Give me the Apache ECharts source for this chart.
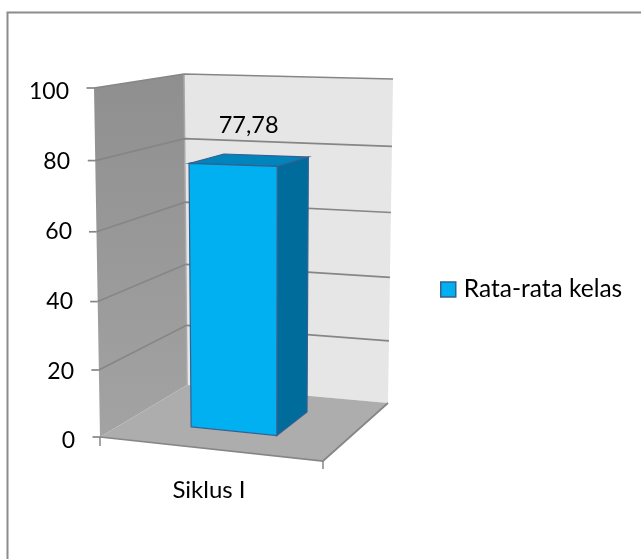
<!DOCTYPE html>
<html>
<head>
<meta charset="utf-8">
<style>html,body{margin:0;padding:0;background:#fff}#chart{width:641px;height:559px}</style>
<script src="https://cdn.jsdelivr.net/npm/echarts@6/dist/echarts.min.js"></script>
</head>
<body>
<div id="chart"></div>
<script>
// Chart content
const categories = ['Siklus I'];
const seriesName = 'Rata-rata kelas';
const classAverage = [77.78];
const valueTicks = [0, 20, 40, 60, 80, 100];

// Colours
const faceColor = '#00B0F0', topColor = '#0084BC', sideColor = '#006C9C', edgeColor = '#35608F';
const lineColor = '#868686';

// Screen corners of the 3D plot box: F/B = front/back, L/R = left/right, B/T = bottom/top
const box = {
  FLB: [100, 437], FRB: [323, 461], BLB: [187, 385], BRB: [388, 403],
  FLT: [94, 88], FRT: [325, 90], BLT: [184, 74], BRT: [393, 79]
};
const foreshorten = 0.05; // lower values are squeezed slightly by the camera tilt
const mix = (a, b, k) => [a[0] + (b[0] - a[0]) * k, a[1] + (b[1] - a[1]) * k];

// Trilinear projection: u across, d into depth, t up (0..1 on each)
function project(u, d, t) {
  const fl = mix(box.FLB, box.FLT, t), fr = mix(box.FRB, box.FRT, t);
  const bl = mix(box.BLB, box.BLT, t), br = mix(box.BRB, box.BRT, t);
  return mix(mix(fl, fr, u), mix(bl, br, u), d);
}
// Height fraction of a value, read through the value axis scale
function heightOf(api, v) {
  const y0 = api.coord([0, 0])[1], y100 = api.coord([0, 100])[1];
  const t = (y0 - api.coord([0, v])[1]) / (y0 - y100);
  return t - foreshorten * t * (1 - t);
}
const poly = (pts, fill) => ({ type: 'polygon', silent: true, shape: { points: pts }, style: { fill } });
const line = (pts, stroke, lineWidth) => ({ type: 'polyline', silent: true, shape: { points: pts }, style: { fill: 'none', stroke, lineWidth } });

const font = 'Lato';
const tickLabelStyle = (right) => ({ fontFamily: font, fontSize: 23, padding: [8, right, 0, 0] });
const chart = echarts.init(document.getElementById('chart'), null, { renderer: 'canvas' });
chart.setOption({
  animation: false,
  backgroundColor: '#ffffff',
  textStyle: { fontFamily: font, color: '#000' },
  graphic: [
    { type: 'polyline', silent: true, shape: { points: [[7.5, 559], [7.5, 12.5], [641, 12.5]] }, style: { fill: 'none', stroke: '#8c8c8c', lineWidth: 2 } }
  ],
  grid: { left: 95, top: 88, width: 228, height: 349 },
  xAxis: {
    type: 'category', data: categories,
    axisLine: { show: false }, axisTick: { show: false },
    axisLabel: { color: '#000', fontFamily: font, fontSize: 24, margin: 41 }
  },
  yAxis: {
    type: 'value', min: 0, max: 100, interval: 20,
    axisLine: { show: false }, axisTick: { show: false }, splitLine: { show: false },
    axisLabel: {
      color: '#000', margin: 20,
      formatter: v => `{p${v}|${v}}`,
      rich: {
        p0: tickLabelStyle(0),
        p20: tickLabelStyle(1),
        p40: tickLabelStyle(2),
        p60: tickLabelStyle(3),
        p80: tickLabelStyle(5),
        p100: tickLabelStyle(6)
      }
    }
  },
  legend: {
    left: 435, top: 272, orient: 'vertical', itemWidth: 15, itemHeight: 15, itemGap: 0,
    textStyle: { fontFamily: font, fontSize: 24.5, color: '#000', padding: [0, 0, 0, 3] },
    data: [{ name: seriesName, icon: 'rect', itemStyle: { color: faceColor, borderColor: edgeColor, borderWidth: 1.5 } }]
  },
  series: [
    {
      // Walls, floor and the edges of the floor
      name: 'walls', type: 'custom', coordinateSystem: 'cartesian2d', silent: true, z: 1,
      data: [[0, 100]],
      renderItem(params, api) {
        const top = heightOf(api, 100), o = heightOf(api, 0);
        const c = (u, d, t) => project(u, d, t);
        const leftWall = poly([c(0, 0, o), c(0, 1, o), c(0, 1, top), c(0, 0, top)], {
          type: 'linear', x: 0, y: 0, x2: 0, y2: 1,
          colorStops: [{ offset: 0, color: '#8f8f8f' }, { offset: 1, color: '#a3a3a3' }]
        });
        return {
          type: 'group',
          children: [
            leftWall,
            poly([c(0, 1, o), c(1, 1, o), c(1, 1, top), c(0, 1, top)], '#e6e6e6'),
            poly([c(0, 0, o), c(1, 0, o), c(1, 1, o), c(0, 1, o)], '#adadad'),
            line([c(0, 1, o), c(0, 1, top)], '#a8a8a8', 1.5),
            line([c(0, 0, o), c(1, 0, o), c(1, 1, o)], lineColor, 1.7),
            line([c(0, 0, o), [c(0, 0, o)[0], c(0, 0, o)[1] + 9]], lineColor, 1.5),
            line([c(1, 0, o), [c(1, 0, o)[0], c(1, 0, o)[1] + 8]], lineColor, 1.5)
          ]
        };
      }
    },
    {
      // Gridlines running over the side and back walls, with their axis ticks
      name: 'gridlines', type: 'custom', coordinateSystem: 'cartesian2d', silent: true, z: 2,
      data: valueTicks.map(v => [0, v]),
      renderItem(params, api) {
        const t = heightOf(api, api.value(1));
        const a = project(0, 0, t), b = project(0, 1, t), e = project(1, 1, t);
        const kids = [line([[a[0] - 7.5, a[1]], a], lineColor, 1.7)];
        if (api.value(1) > 0) kids.push(line([a, b, e], lineColor, 1.7));
        return { type: 'group', children: kids };
      }
    },
    {
      // The column: front, top and side faces plus its value label
      name: seriesName, type: 'custom', coordinateSystem: 'cartesian2d', z: 3,
      itemStyle: { color: faceColor },
      data: categories.map((c, i) => [i, classAverage[i]]),
      renderItem(params, api) {
        const value = api.value(1);
        const t = heightOf(api, value), o = heightOf(api, 0);
        const band = api.size([1, 0])[0];
        const uc = (api.coord([api.value(0), 0])[0] - params.coordSys.x) / band;
        const u1 = uc - 0.207, u2 = uc + 0.19, d1 = 0.32, d2 = 0.74;
        const faces = (pts, fill) => ({ type: 'polygon', shape: { points: pts }, style: { fill, stroke: edgeColor, lineWidth: 1.2 } });
        const mid = project((u1 + u2) / 2, (d1 + d2) / 2, t);
        return {
          type: 'group',
          children: [
            faces([project(u2, d1, o), project(u2, d2, o), project(u2, d2, t), project(u2, d1, t)], sideColor),
            faces([project(u1, d1, t), project(u2, d1, t), project(u2, d2, t), project(u1, d2, t)], topColor),
            faces([project(u1, d1, o), project(u2, d1, o), project(u2, d1, t), project(u1, d1, t)], faceColor),
            {
              type: 'text', silent: true, x: mid[0] - 1, y: mid[1] - 35,
              style: { text: value.toFixed(2).replace('.', ','), fontFamily: font, fontSize: 23.5, fill: '#000', align: 'center', verticalAlign: 'middle' }
            }
          ]
        };
      }
    }
  ]
});
</script>
</body>
</html>
